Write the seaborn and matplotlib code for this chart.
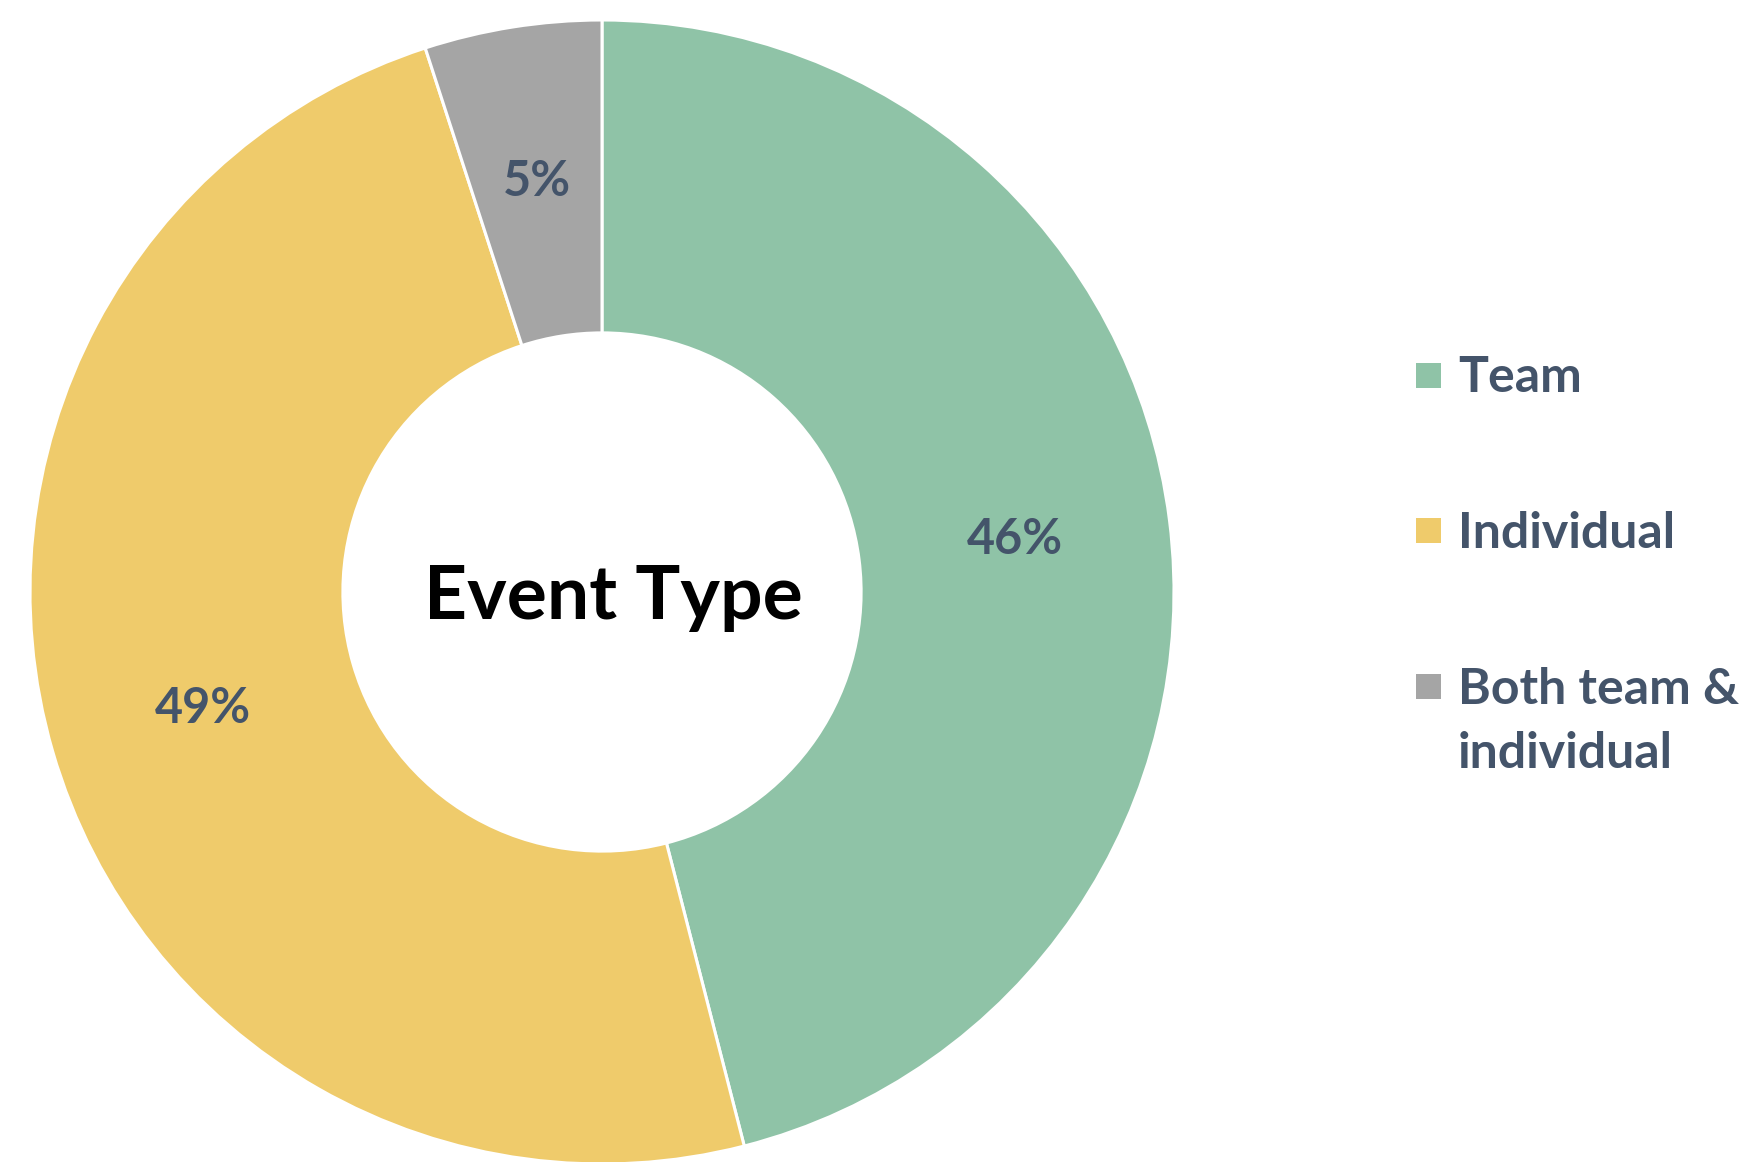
import matplotlib
matplotlib.use("Agg")
import matplotlib.pyplot as plt
from matplotlib.patches import Rectangle
import seaborn as sns

categories = ["Team", "Individual", "Both team &\nindividual"]
shares = [46, 49, 5]
pct_labels = ["46%", "49%", "5%"]
center_title = "Event Type"

sns.set_theme(style="white")
plt.rcParams["font.family"] = ["Lato", "DejaVu Sans"]

colors = sns.color_palette(["#8FC3A7", "#EFCB6B", "#A5A5A5"])
text_color = "#44546A"

W, H = 1746, 1162
fig = plt.figure(figsize=(W / 100, H / 100), dpi=100)
cx, cy, R = 602, 592, 572
ax = fig.add_axes([(cx - R) / W, (H - cy - R) / H, 2 * R / W, 2 * R / H])

wedges, texts, autotexts = ax.pie(
    shares, colors=colors, startangle=90, counterclock=False,
    radius=1.0, autopct=lambda p: "", pctdistance=0.727,
    wedgeprops=dict(width=0.547, edgecolor="white", linewidth=2.2),
)
for w in wedges:
    w.set_clip_on(False)
for t, lab in zip(autotexts, pct_labels):
    t.set_text(lab)
    t.set_fontsize(35)
    t.set_fontweight("bold")
    t.set_color(text_color)
ax.set_xlim(-1, 1)
ax.set_ylim(-1, 1)
ax.set_aspect("equal")
ax.axis("off")

ax.text(0.02, -0.048, center_title, ha="center", va="baseline",
        fontsize=54, fontweight="bold", color="black")

# legend (manual so the marker aligns with the first line of wrapped labels)
sq = 25
leg_x = 1416
text_x = 1458
row_centers = [375, 530, 686]
line_gap = 65
for cat, col, yc in zip(categories, colors, row_centers):
    fig.patches.append(Rectangle((leg_x / W, (H - yc - sq / 2) / H), sq / W, sq / H,
                                 transform=fig.transFigure, facecolor=col,
                                 edgecolor="none", figure=fig))
    for k, line in enumerate(cat.split("\n")):
        fig.text(text_x / W, (H - yc - 17.5 - k * line_gap) / H, line,
                 ha="left", va="baseline", fontsize=36, fontweight="bold",
                 color=text_color)

fig.savefig("out.png", dpi=100)
